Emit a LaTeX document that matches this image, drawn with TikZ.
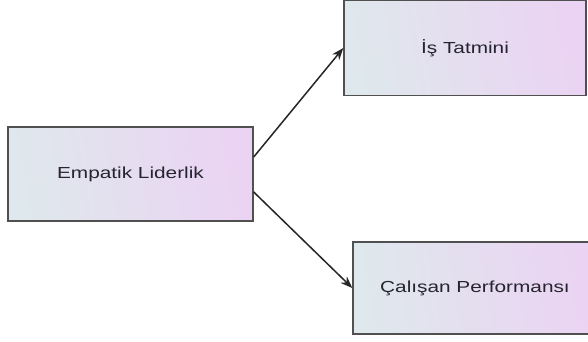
\documentclass[tikz,border=0pt]{standalone}
\usepackage{fontspec}
\setmainfont{Liberation Sans}
\usetikzlibrary{arrows.meta}
\definecolor{gradL}{HTML}{DFE8EC}
\definecolor{gradR}{HTML}{EBD3F3}
\definecolor{edge}{HTML}{505050}
\definecolor{txt}{HTML}{262430}
\newcommand{\wtext}[1]{\scalebox{1.3}[1]{\fontsize{16}{18}\selectfont #1}}
\tikzset{
  boxnode/.style={draw=edge, line width=1.4pt, left color=gradL, right color=gradR,
    shading angle=100, inner sep=0pt, text=txt, rectangle},
  conn/.style={line width=1.5pt, draw=black!85, -{Stealth[length=12pt,width=9pt]}}
}
\begin{document}
\begin{tikzpicture}[x=1pt,y=-1pt]
\useasboundingbox (0,0) rectangle (588,342);
\fill[white] (0,0) rectangle (588,342);
\node[boxnode, minimum width=245pt, minimum height=94pt] (L) at (130.5,174) {\wtext{Empatik Liderlik}};
\node[boxnode, minimum width=242pt, minimum height=95pt] (T) at (465,48) {\wtext{İş Tatmini}};
\node[boxnode, minimum width=244pt, minimum height=92pt] (B) at (475,288) {\wtext{Çalışan Performansı}};
\draw[conn] ([yshift=17pt]L.east) -- (T.west);
\draw[conn] ([yshift=-18pt]L.east) -- (B.west);
\end{tikzpicture}
\end{document}
